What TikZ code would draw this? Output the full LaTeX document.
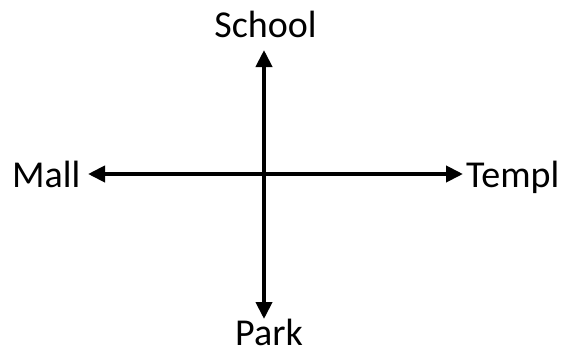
\documentclass[tikz,border=0pt]{standalone}
\usepackage{fontspec}
\setmainfont{Carlito}
\usetikzlibrary{arrows.meta}
\begin{document}
\begin{tikzpicture}[x=1pt,y=1pt,
  lbl/.style={font=\fontsize{38}{46}\selectfont, inner sep=0pt, anchor=base},
  axis/.style={line width=4pt, {Triangle[length=17pt,width=16pt]}-{Triangle[length=17pt,width=16pt]}}]
\useasboundingbox (0,0) rectangle (564,349);
\node[lbl] (school) at (265.5,312) {School};
\node[lbl] (park) at (269,4) {Park};
\node[lbl, anchor=base west] (mall) at (12,162) {Mall};
\node[lbl, anchor=base west] (templ) at (466,162) {Templ};
\coordinate (top) at (264,299);
\coordinate (bot) at (264,30);
\coordinate (left) at (88,175);
\coordinate (right) at (463,175);
\draw[axis] (bot) -- (top);
\draw[axis] (left) -- (right);
\end{tikzpicture}
\end{document}
